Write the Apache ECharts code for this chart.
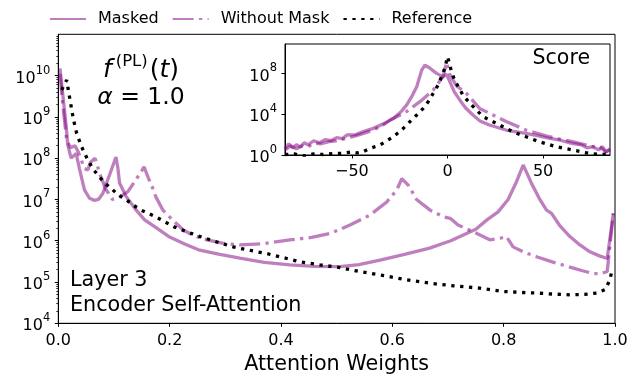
<!DOCTYPE html>
<html>
<head>
<meta charset="utf-8">
<script src="https://cdn.jsdelivr.net/npm/echarts@6/dist/echarts.min.js"></script>
<style>
  html, body { margin: 0; padding: 0; background: #fff; }
  #chart { width: 639px; height: 374px; }
</style>
</head>
<body>
<div id="chart"></div>
<script>
// ---- Main panel: density of attention weights ----
const maskedX = [0.003, 0.014, 0.017, 0.023, 0.032, 0.038, 0.047, 0.056, 0.065, 0.072, 0.080, 0.092, 0.1036, 0.107, 0.110, 0.122, 0.140, 0.155, 0.175, 0.200, 0.227, 0.254, 0.290, 0.326, 0.370, 0.416, 0.460, 0.506, 0.540, 0.578, 0.620, 0.667, 0.705, 0.750, 0.770, 0.790, 0.808, 0.822, 0.835, 0.843, 0.850, 0.865, 0.877, 0.886, 0.900, 0.919, 0.937, 0.955, 0.972, 0.986, 0.997];
const maskedY = [1.5e10, 6.3e8, 2.1e8, 1e8, 1.3e8, 5.6e7, 1.7e7, 1.07e7, 9.5e6, 1.0e7, 1.4e7, 3.9e7, 1.07e8, 5.8e7, 2.5e7, 1.17e7, 5.5e6, 3.2e6, 2.1e6, 1.23e6, 8.3e5, 5.9e5, 4.7e5, 3.8e5, 3e5, 2.6e5, 2.4e5, 2.35e5, 2.65e5, 3.4e5, 4.6e5, 6.6e5, 1e6, 1.9e6, 3.2e6, 5e6, 1e7, 2.5e7, 6.8e7, 4e7, 2.45e7, 1e7, 5.5e6, 4.6e6, 2.4e6, 1.26e6, 7.9e5, 5.4e5, 4.3e5, 3.7e5, 4.6e6];

const noMaskX = [0.003, 0.008, 0.015, 0.022, 0.030, 0.036, 0.047, 0.053, 0.058, 0.066, 0.075, 0.085, 0.097, 0.108, 0.125, 0.140, 0.149, 0.154, 0.163, 0.171, 0.175, 0.188, 0.205, 0.225, 0.245, 0.267, 0.295, 0.326, 0.370, 0.416, 0.455, 0.488, 0.524, 0.560, 0.590, 0.608, 0.617, 0.629, 0.644, 0.668, 0.692, 0.704, 0.718, 0.745, 0.775, 0.794, 0.805, 0.817, 0.838, 0.859, 0.890, 0.919, 0.940, 0.961, 0.975, 0.986, 0.997];
const noMaskY = [1.1e10, 2e9, 2.8e8, 1.8e8, 2e8, 1.4e8, 5.6e7, 5.2e7, 8e7, 1e8, 4e7, 1.8e7, 1e7, 1.1e7, 1.55e7, 3.1e7, 4.7e7, 6.2e7, 3e7, 1.7e7, 1.17e7, 5.5e6, 3.2e6, 1.8e6, 1.3e6, 1.05e6, 8.7e5, 7.9e5, 8.5e5, 1.05e6, 1.2e6, 1.5e6, 2.4e6, 4.2e6, 8.7e6, 1.7e7, 3.2e7, 2.2e7, 9.8e6, 5.5e6, 3.8e6, 3.5e6, 2.4e6, 1.66e6, 1.05e6, 1.15e6, 1.26e6, 7.1e5, 5.2e5, 4.1e5, 3e5, 2.3e5, 1.9e5, 1.6e5, 1.6e5, 1.8e5, 4.6e6];

const refX = [0.006, 0.015, 0.021, 0.027, 0.033, 0.041, 0.053, 0.062, 0.071, 0.084, 0.095, 0.107, 0.122, 0.135, 0.149, 0.175, 0.207, 0.230, 0.255, 0.285, 0.314, 0.345, 0.374, 0.404, 0.434, 0.470, 0.506, 0.540, 0.578, 0.620, 0.668, 0.710, 0.757, 0.799, 0.830, 0.859, 0.890, 0.919, 0.945, 0.967, 0.982, 0.991, 0.994];
const refY = [4.5e9, 7.8e9, 2.6e9, 8.9e8, 4e8, 2e8, 9e7, 5.6e7, 3.9e7, 2.45e7, 1.86e7, 1.3e7, 9.8e6, 7.2e6, 5.5e6, 3.8e6, 2.2e6, 1.66e6, 1.26e6, 9.3e5, 7.1e5, 5.8e5, 4.9e5, 3.9e5, 3.1e5, 2.6e5, 2.24e5, 1.8e5, 1.48e5, 1.17e5, 9.3e4, 8.1e4, 7.1e4, 5.9e4, 5.6e4, 5.4e4, 5.1e4, 4.9e4, 5e4, 5.4e4, 6.5e4, 1.12e5, 1.8e5];

// ---- Inset: distribution of attention scores ----
const scoreMaskedX = [-85, -83, -81, -79, -77, -75, -73, -70, -67, -64, -61, -58, -55, -52.6, -48, -44, -38.8, -33, -28.3, -24, -21.4, -18.5, -16.1, -13.5, -11.8, -9.2, -5.7, -2.3, -0.5, 1.2, 3.5, 6.4, 9.5, 13.3, 17, 21.9, 30.6, 41, 47, 53, 59, 65, 70, 73, 76, 79, 81, 83, 85];
const scoreMaskedY = [4, 12.6, 5, 10, 6.3, 15.8, 10, 25, 16, 32, 25, 50, 40, 91, 100, 200, 407, 1260, 3900, 2e4, 7.9e4, 6.3e5, 5e6, 2.1e8, 6.6e8, 3.2e8, 1e8, 4.8e7, 8e7, 1.55e7, 1.6e6, 2.5e5, 4e4, 8.3e3, 2.2e3, 870, 280, 135, 80, 44, 28, 14, 10, 5, 6.5, 3.2, 6.3, 2, 4];

const scoreNoMaskX = [-85, -82, -79, -76, -73, -70, -66, -62, -58, -52.6, -46, -38.8, -34, -30, -25, -21.4, -14.4, -7.5, -2.3, -0.5, 1.2, 4.6, 9.9, 16.8, 23.8, 30.7, 41.1, 53.3, 60, 65.4, 70, 75.8, 79, 82.8, 85];
const scoreNoMaskY = [3.2, 7.9, 4, 7.9, 6.3, 14, 12.6, 20, 25, 44, 100, 280, 790, 2.7e3, 7.9e3, 1.8e4, 1.7e5, 2.3e6, 4.8e7, 1.26e9, 8e7, 6.3e6, 1.1e6, 3.7e4, 8.3e3, 1.9e3, 280, 62, 32, 20, 12.6, 6.5, 7.9, 2.1, 3.2];

const scoreRefX = [-85, -80, -75, -70, -65, -60, -55, -50, -47.4, -44, -40.5, -35.3, -28.3, -23.1, -19.6, -16.1, -12.7, -10.1, -7.5, -4.9, -3.1, -1.4, 0, 1, 2, 4, 6, 8, 11.7, 15.1, 18.6, 27.2, 34.1, 41.1, 48, 56.8, 65.4, 74, 80, 85];
const scoreRefY = [1.12, 1.26, 0.8, 1.26, 1.12, 1.4, 1.45, 2, 1.6, 2.2, 4.5, 9.5, 62, 410, 1.9e3, 8.3e3, 3.8e4, 1.7e5, 1.1e6, 7.2e6, 4.8e7, 3.2e8, 4.4e9, 1e9, 1.6e8, 1.6e7, 4e6, 7.6e5, 1.2e5, 2.6e4, 5.8e3, 870, 190, 62, 20, 6.5, 3.1, 1.45, 1.12, 1.26];

// ---- Axis ticks ----
const mainXTicks = [0, 0.2, 0.4, 0.6, 0.8, 1.0];
const mainYTicks = [1e4, 1e5, 1e6, 1e7, 1e8, 1e9, 1e10];
const insetXTicks = [-50, 0, 50];
const insetYTicks = [1, 1e4, 1e8];

const seriesNames = ['Masked', 'Without Mask', 'Reference'];

// minor log ticks (2..9 x 10^n) on the main y axis
const mainYMinor = [];
for (let e = 4; e <= 10; e++) {
  for (let k = 2; k <= 9; k++) mainYMinor.push(k * Math.pow(10, e));
}

const FONT = 'DejaVu Sans';
const PURPLE = 'rgba(128,0,128,0.5)';
const LW = 3.3;
const DASHDOT = [21, 5.3, 3.3, 5.3];
const DOTTED = [3.3, 5.6];

const zip = (xs, ys) => xs.map((x, i) => [x, ys[i]]);

const powLabel = (v) => {
  const e = Math.round(Math.log10(v));
  return '{b|10}{s|' + e + '}';
};
const powRich = {
  b: { fontSize: 16, fontFamily: FONT, color: '#000', lineHeight: 22, verticalAlign: 'bottom' },
  s: { fontSize: 11.5, fontFamily: FONT, color: '#000', lineHeight: 12, verticalAlign: 'top' }
};

const axisLineStyle = { color: '#000', width: 1 };

const chart = echarts.init(document.getElementById('chart'), null, { renderer: 'canvas' });

chart.setOption({
  animation: false,
  backgroundColor: '#fff',
  legend: {
    data: seriesNames,
    left: 44,
    top: 6,
    itemWidth: 36,
    itemHeight: 14,
    itemGap: 13,
    itemStyle: { opacity: 0 },
    textStyle: { fontSize: 16, fontFamily: FONT, color: '#000', padding: [0, 0, 0, 7] }
  },
  grid: [
    { left: 58.3, top: 34.3, width: 556.7, height: 289, outerBoundsMode: 'none', containLabel: false, show: true, borderColor: '#000', borderWidth: 1, backgroundColor: 'transparent' },
    { left: 285, top: 44, width: 325, height: 111, outerBoundsMode: 'none', containLabel: false, show: true, borderColor: '#000', borderWidth: 1, backgroundColor: '#fff' }
  ],
  xAxis: [
    {
      gridIndex: 0, type: 'value', min: 0, max: 1, interval: 0.2,
      axisLine: { onZero: false, lineStyle: axisLineStyle },
      axisTick: { show: true, length: 3.5, lineStyle: axisLineStyle, customValues: mainXTicks },
      axisLabel: { margin: 10, fontSize: 16, fontFamily: FONT, color: '#000', customValues: mainXTicks, formatter: (v) => v.toFixed(1) },
      splitLine: { show: false },
      name: 'Attention Weights', nameLocation: 'middle', nameGap: 25,
      nameTextStyle: { fontSize: 20.7, fontFamily: FONT, color: '#000' }
    },
    {
      gridIndex: 1, type: 'value', min: -85, max: 85,
      axisLine: { onZero: false, lineStyle: axisLineStyle },
      axisTick: { show: true, length: 3.5, lineStyle: axisLineStyle, customValues: insetXTicks },
      axisLabel: { margin: 9, fontSize: 16, fontFamily: FONT, color: '#000', customValues: insetXTicks, formatter: (v) => (v < 0 ? '\u2212' + Math.abs(v) : String(v)) },
      splitLine: { show: false }
    }
  ],
  yAxis: [
    {
      gridIndex: 0, type: 'log', logBase: 10, min: 1e4, max: 1e11,
      axisLine: { show: true, onZero: false, lineStyle: axisLineStyle },
      axisTick: { show: true, length: 3.5, lineStyle: axisLineStyle, customValues: mainYTicks },
      axisLabel: { margin: 8, customValues: mainYTicks, formatter: powLabel, rich: powRich },
      splitLine: { show: false }
    },
    {
      gridIndex: 0, type: 'log', logBase: 10, min: 1e4, max: 1e11, position: 'left',
      axisLine: { show: false, onZero: false },
      axisTick: { show: true, length: 2, lineStyle: { color: '#000', width: 0.8 }, customValues: mainYMinor },
      axisLabel: { show: false },
      splitLine: { show: false }
    },
    {
      gridIndex: 1, type: 'log', logBase: 10, min: 1, max: 7.6e10,
      axisLine: { show: true, onZero: false, lineStyle: axisLineStyle },
      axisTick: { show: true, length: 3.5, lineStyle: axisLineStyle, customValues: insetYTicks },
      axisLabel: { margin: 8, customValues: insetYTicks, formatter: powLabel, rich: powRich },
      splitLine: { show: false }
    }
  ],
  series: [
    {
      name: 'Masked', type: 'line', xAxisIndex: 0, yAxisIndex: 0,
      data: zip(maskedX, maskedY), showSymbol: false, symbol: 'none',
      lineStyle: { color: PURPLE, width: LW, type: 'solid' }, itemStyle: { color: PURPLE }
    },
    {
      name: 'Without Mask', type: 'line', xAxisIndex: 0, yAxisIndex: 0,
      data: zip(noMaskX, noMaskY), showSymbol: false, symbol: 'none',
      lineStyle: { color: PURPLE, width: LW, type: DASHDOT }, itemStyle: { color: PURPLE }
    },
    {
      name: 'Reference', type: 'line', xAxisIndex: 0, yAxisIndex: 0,
      data: zip(refX, refY), showSymbol: false, symbol: 'none',
      lineStyle: { color: '#000', width: LW, type: DOTTED, cap: 'butt' }, itemStyle: { color: '#000' }
    },
    {
      name: 'Masked', type: 'line', xAxisIndex: 1, yAxisIndex: 2, z: 5,
      data: zip(scoreMaskedX, scoreMaskedY), showSymbol: false, symbol: 'none',
      lineStyle: { color: PURPLE, width: LW, type: 'solid' }
    },
    {
      name: 'Without Mask', type: 'line', xAxisIndex: 1, yAxisIndex: 2, z: 5,
      data: zip(scoreNoMaskX, scoreNoMaskY), showSymbol: false, symbol: 'none',
      lineStyle: { color: PURPLE, width: LW, type: DASHDOT }
    },
    {
      name: 'Reference', type: 'line', xAxisIndex: 1, yAxisIndex: 2, z: 5,
      data: zip(scoreRefX, scoreRefY), showSymbol: false, symbol: 'none',
      lineStyle: { color: '#000', width: LW, type: DOTTED, cap: 'butt' }
    }
  ],
  graphic: [
    {
      type: 'text', x: 141, y: 68, z: 10,
      style: {
        text: '{i|f}{sup|(PL)}{p|(}{i|t}{r|)}',
        align: 'center', verticalAlign: 'middle',
        rich: {
          i: { fontSize: 25, fontFamily: FONT, fontStyle: 'italic', fill: '#000', lineHeight: 30, verticalAlign: 'bottom' },
          r: { fontSize: 25, fontFamily: FONT, fill: '#000', lineHeight: 30, verticalAlign: 'bottom' },
          p: { fontSize: 25, fontFamily: FONT, fill: '#000', lineHeight: 30, verticalAlign: 'bottom', padding: [0, 0, 0, 2] },
          sup: { fontSize: 16.5, fontFamily: FONT, fill: '#000', lineHeight: 18, verticalAlign: 'top', padding: [0, 0, 0, 4] }
        }
      }
    },
    {
      type: 'text', x: 141, y: 98, z: 10,
      style: {
        text: '{i|\u03b1} = 1.0', align: 'center', verticalAlign: 'middle',
        fontSize: 23.5, fontFamily: FONT, fill: '#000',
        rich: { i: { fontSize: 23.5, fontFamily: FONT, fontStyle: 'italic', fill: '#000' } }
      }
    },
    {
      type: 'text', x: 590, y: 59, z: 10,
      style: { text: 'Score', align: 'right', verticalAlign: 'middle', fontSize: 20.5, fontFamily: FONT, fill: '#000' }
    },
    {
      type: 'text', x: 70, y: 281, z: 10,
      style: { text: 'Layer 3', align: 'left', verticalAlign: 'middle', fontSize: 20.7, fontFamily: FONT, fill: '#000' }
    },
    {
      type: 'text', x: 70, y: 305.5, z: 10,
      style: { text: 'Encoder Self-Attention', align: 'left', verticalAlign: 'middle', fontSize: 20.7, fontFamily: FONT, fill: '#000' }
    }
  ]
});
</script>
</body>
</html>
